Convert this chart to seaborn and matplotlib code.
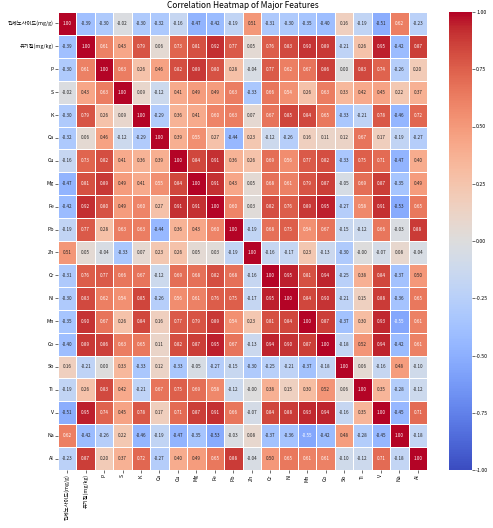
import numpy as np
import pandas as pd
import matplotlib
matplotlib.use("Agg")
import matplotlib.pyplot as plt
import seaborn as sns

features = ["진세노사이드(mg/g)", "유기질(mg/kg)", "P", "S", "K", "Ca", "Cu", "Mg", "Fe", "Pb",
            "Zn", "Cr", "Ni", "Mn", "Co", "Sb", "Ti", "V", "Na", "Al"]

corr_rows = [
    [1.00, -0.39, -0.30, -0.02, -0.30, -0.32, -0.16, -0.47, -0.42, -0.19, 0.51, -0.31, -0.30, -0.35, -0.40, 0.16, -0.19, -0.51, 0.62, -0.23],
    [-0.39, 1.00, 0.61, 0.43, 0.79, 0.06, 0.73, 0.81, 0.92, 0.77, 0.05, 0.76, 0.83, 0.90, 0.89, -0.21, 0.26, 0.95, -0.42, 0.87],
    [-0.30, 0.61, 1.00, 0.63, 0.26, 0.46, 0.82, 0.89, 0.80, 0.28, -0.04, 0.77, 0.62, 0.67, 0.86, 0.00, 0.83, 0.74, -0.26, 0.20],
    [-0.02, 0.43, 0.63, 1.00, 0.09, -0.12, 0.41, 0.49, 0.49, 0.63, -0.33, 0.66, 0.54, 0.26, 0.63, 0.33, 0.42, 0.45, 0.22, 0.37],
    [-0.30, 0.79, 0.26, 0.09, 1.00, -0.29, 0.36, 0.41, 0.60, 0.63, 0.07, 0.67, 0.85, 0.84, 0.65, -0.33, -0.21, 0.78, -0.46, 0.72],
    [-0.32, 0.06, 0.46, -0.12, -0.29, 1.00, 0.39, 0.55, 0.27, -0.44, 0.23, -0.12, -0.26, 0.16, 0.11, 0.12, 0.67, 0.17, -0.19, -0.27],
    [-0.16, 0.73, 0.82, 0.41, 0.36, 0.39, 1.00, 0.84, 0.91, 0.36, 0.26, 0.69, 0.56, 0.77, 0.82, -0.33, 0.75, 0.71, -0.47, 0.40],
    [-0.47, 0.81, 0.89, 0.49, 0.41, 0.55, 0.84, 1.00, 0.91, 0.43, 0.05, 0.68, 0.61, 0.79, 0.87, -0.05, 0.69, 0.87, -0.35, 0.49],
    [-0.42, 0.92, 0.80, 0.49, 0.60, 0.27, 0.91, 0.91, 1.00, 0.60, 0.03, 0.82, 0.76, 0.89, 0.95, -0.27, 0.58, 0.91, -0.53, 0.65],
    [-0.19, 0.77, 0.28, 0.63, 0.63, -0.44, 0.36, 0.43, 0.60, 1.00, -0.19, 0.68, 0.75, 0.54, 0.67, -0.15, -0.12, 0.66, -0.03, 0.88],
    [0.51, 0.05, -0.04, -0.33, 0.07, 0.23, 0.26, 0.05, 0.03, -0.19, 1.00, -0.16, -0.17, 0.23, -0.13, -0.30, -0.00, -0.07, 0.08, -0.04],
    [-0.31, 0.76, 0.77, 0.66, 0.67, -0.12, 0.69, 0.68, 0.82, 0.68, -0.16, 1.00, 0.95, 0.81, 0.94, -0.25, 0.38, 0.84, -0.37, 0.50],
    [-0.30, 0.83, 0.62, 0.54, 0.85, -0.26, 0.56, 0.61, 0.76, 0.75, -0.17, 0.95, 1.00, 0.84, 0.90, -0.21, 0.15, 0.88, -0.36, 0.65],
    [-0.35, 0.90, 0.67, 0.26, 0.84, 0.16, 0.77, 0.79, 0.89, 0.54, 0.23, 0.81, 0.84, 1.00, 0.87, -0.37, 0.30, 0.93, -0.55, 0.61],
    [-0.40, 0.89, 0.86, 0.63, 0.65, 0.11, 0.82, 0.87, 0.95, 0.67, -0.13, 0.94, 0.90, 0.87, 1.00, -0.18, 0.52, 0.94, -0.42, 0.61],
    [0.16, -0.21, 0.00, 0.33, -0.33, 0.12, -0.33, -0.05, -0.27, -0.15, -0.30, -0.25, -0.21, -0.37, -0.18, 1.00, 0.06, -0.16, 0.48, -0.10],
    [-0.19, 0.26, 0.83, 0.42, -0.21, 0.67, 0.75, 0.69, 0.58, -0.12, -0.00, 0.38, 0.15, 0.30, 0.52, 0.06, 1.00, 0.35, -0.28, -0.12],
    [-0.51, 0.95, 0.74, 0.45, 0.78, 0.17, 0.71, 0.87, 0.91, 0.66, -0.07, 0.84, 0.88, 0.93, 0.94, -0.16, 0.35, 1.00, -0.45, 0.71],
    [0.62, -0.42, -0.26, 0.22, -0.46, -0.19, -0.47, -0.35, -0.53, -0.03, 0.08, -0.37, -0.36, -0.55, -0.42, 0.48, -0.28, -0.45, 1.00, -0.18],
    [-0.23, 0.87, 0.20, 0.37, 0.72, -0.27, 0.40, 0.49, 0.65, 0.88, -0.04, 0.50, 0.65, 0.61, 0.61, -0.10, -0.12, 0.71, -0.18, 1.00],
]

cbar_ticks = [-1, -0.75, -0.5, -0.25, 0, 0.25, 0.5, 0.75, 1]

corr = pd.DataFrame(corr_rows, index=features, columns=features)

plt.rcParams["font.family"] = ["Noto Sans CJK KR", "DejaVu Sans"]

W, H = 493, 528
fig = plt.figure(figsize=(W / 100, H / 100), dpi=100)
ax = fig.add_axes([58 / W, 58 / H, 369 / W, 458 / H])
cax = fig.add_axes([449 / W, 58 / H, 23 / W, 458 / H])

sns.heatmap(
    corr, cmap="coolwarm", vmin=-1, vmax=1, center=0,
    annot=True, fmt=".2f", annot_kws={"size": 3.3},
    linewidths=0.5, linecolor="white",
    ax=ax, cbar_ax=cax,
)
ax.set_title("Correlation Heatmap of Major Features", fontsize=6, pad=3)
ax.tick_params(axis="both", labelsize=3.8, length=2, width=0.4, pad=1)
plt.setp(ax.get_xticklabels(), rotation=90)
plt.setp(ax.get_yticklabels(), rotation=0)

cax.set_yticks(cbar_ticks)
cax.set_yticklabels([f"{v:.2f}" for v in cbar_ticks])
cax.tick_params(labelsize=3.8, length=2, width=0.4, pad=1)
for s in cax.spines.values():
    s.set_visible(False)

fig.savefig("out.png", dpi=100)
